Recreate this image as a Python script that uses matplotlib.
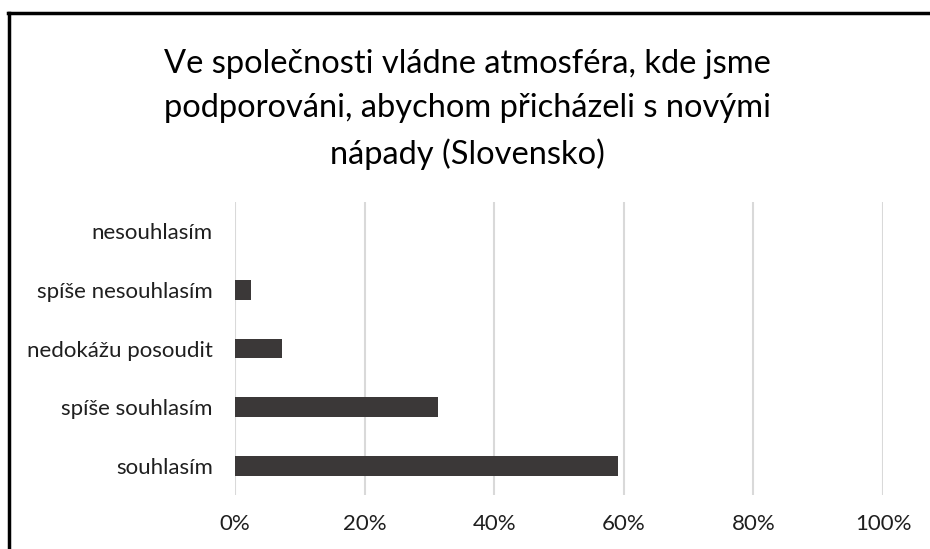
import matplotlib.pyplot as plt
from matplotlib.lines import Line2D

# data
categories = ["souhlasím", "spíše souhlasím", "nedokážu posoudit",
              "spíše nesouhlasím", "nesouhlasím"]
values = [59.1, 31.3, 7.2, 2.4, 0.0]
xticks = [0, 20, 40, 60, 80, 100]
title = "Ve společnosti vládne atmosféra, kde jsme\npodporováni, abychom přicházeli s novými\nnápady (Slovensko)"

plt.rcParams['font.family'] = ['Lato', 'DejaVu Sans']

fig = plt.figure(figsize=(9.3, 5.49), dpi=100)
ax = fig.add_axes([0.2527, 0.0984, 0.6968, 0.5336])

ax.barh(range(len(categories)), values, height=0.34, color="#3b3838", zorder=3)

ax.set_xlim(0, 100)
ax.set_ylim(-0.5, len(categories) - 0.5)
ax.set_xticks(xticks)
ax.set_xticklabels([f"{t}%" for t in xticks], fontsize=16, color="#1f1f1f")
ax.set_yticks(range(len(categories)))
ax.set_yticklabels(categories, fontsize=16, color="#1f1f1f")
ax.tick_params(length=0)
ax.tick_params(axis="x", pad=14)
ax.tick_params(axis="y", pad=16)
ax.xaxis.grid(True, color="#d9d9d9", linewidth=1.5, zorder=0)
for s in ax.spines.values():
    s.set_visible(False)

fig.text(0.503, 0.91, title, ha="center", va="top", fontsize=23.5,
         linespacing=1.58, color="#000000")

# chart border (partly cropped in reference)
fig.add_artist(Line2D([0.009, 1.0], [0.976, 0.976], color="black", linewidth=2.5,
                      transform=fig.transFigure))
fig.add_artist(Line2D([0.0095, 0.0095], [0.0, 0.976], color="black", linewidth=2.5,
                      transform=fig.transFigure))

fig.savefig("out.png", dpi=100)
